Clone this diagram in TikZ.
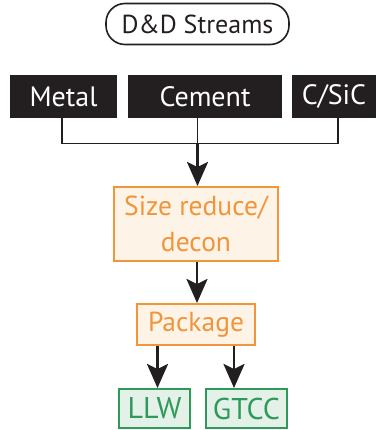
\documentclass[tikz,border=0pt]{standalone}
\usepackage{fontspec}
\setmainfont{PT Sans}
\usetikzlibrary{arrows.meta}
\definecolor{ink}{HTML}{231F20}
\definecolor{orangeline}{HTML}{F0953A}
\definecolor{orangefill}{HTML}{FDF3E7}
\definecolor{greenline}{HTML}{2E9A5A}
\definecolor{greenfill}{HTML}{E3F1E8}
\tikzset{
  base/.style={inner sep=0pt, anchor=center, font=\fontsize{26}{30}\selectfont},
  titlebox/.style={base, draw=ink, line width=1.6pt, rounded corners=19pt, text=ink},
  streambox/.style={base, fill=ink, text=white, font=\fontsize{28}{32}\selectfont},
  procbox/.style={base, draw=orangeline, fill=orangefill, line width=2pt, text=orangeline,
                  font=\fontsize{27.5}{36}\selectfont},
  outbox/.style={base, draw=greenline, fill=greenfill, line width=2pt, text=greenline,
                 font=\fontsize{30}{34}\selectfont},
  joinline/.style={draw=ink, line width=1.5pt},
  flow/.style={draw=ink, line width=2.6pt, -{Stealth[length=24pt,width=21pt,inset=5pt]}},
}
\begin{document}
\begin{tikzpicture}[x=1pt,y=-1pt]
\useasboundingbox (0,0) rectangle (376,430);
\fill[white] (0,0) rectangle (376,430);

\node[titlebox, minimum width=183pt, minimum height=41pt] (title) at (197.5,24) {D\&D Streams};

\node[streambox, minimum width=107pt, minimum height=43pt] (metal) at (63.5,96.5) {Metal};
\node[streambox, minimum width=154pt, minimum height=43pt] (cement) at (205,96.5) {Cement};
\node[streambox, minimum width=84pt, minimum height=43pt] (csic) at (334,96.5) {C/SiC};

\node[procbox, minimum width=164pt, minimum height=74pt, align=center] (size) at (196,224) {Size reduce/\\decon};
\node[procbox, minimum width=118pt, minimum height=41pt] (pkg) at (196,324.5) {Package};

\node[outbox, minimum width=71pt, minimum height=39pt] (llw) at (154.5,408.5) {LLW};
\node[outbox, minimum width=81pt, minimum height=39pt] (gtcc) at (246.5,408.5) {GTCC};

\coordinate (join) at (197.5,143.5);

\draw[joinline] ([xshift=-1.5pt]metal.south) |- (join);
\draw[joinline] ([xshift=4pt]csic.south) |- (join);
\draw[joinline] (cement.south -| join) -- (join);
\draw[flow] (join) -- (size.north -| join);
\draw[flow] ([xshift=1pt]size.south) -- ([xshift=1pt]pkg.north);
\draw[flow] ([xshift=-38.5pt]pkg.south) -- ([xshift=-38.5pt]pkg.south |- llw.north);
\draw[flow] ([xshift=38pt]pkg.south) -- ([xshift=38pt]pkg.south |- gtcc.north);
\end{tikzpicture}
\end{document}
